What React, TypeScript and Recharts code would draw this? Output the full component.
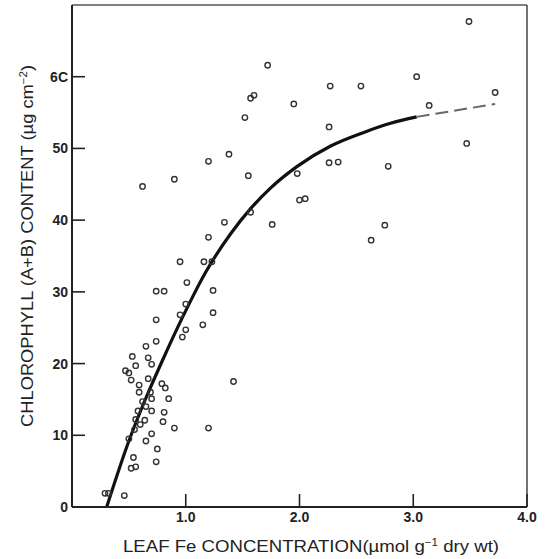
import { ComposedChart, Scatter, Line, XAxis, YAxis, ReferenceLine } from 'recharts';

// leaf Fe (µmol g-1 dry wt) and chlorophyll (µg cm-2) for each sampled leaf
const leafFe = [
  3.49, 1.72, 3.03, 2.27, 2.54, 3.72, 1.6, 1.57, 1.95, 3.14, 1.52, 2.26, 3.47, 1.38, 1.2, 2.26, 2.34,
  2.78, 1.98, 1.55, 0.9, 0.62, 2.0, 2.05, 1.57, 1.34, 1.76, 2.75, 1.2, 2.63, 0.95, 1.16, 1.23, 1.01,
  0.74, 0.81, 1.24, 1.0, 0.95, 1.24, 0.74, 1.15, 1.0, 0.97, 0.74, 0.65, 0.53, 0.67, 0.7, 0.56, 0.47,
  0.5, 0.52, 0.67, 1.42, 0.59, 0.79, 0.82, 0.59, 0.69, 0.7, 0.85, 0.62, 0.65, 0.58, 0.7, 0.81, 0.56,
  0.64, 0.8, 0.6, 0.9, 1.2, 0.55, 0.7, 0.5, 0.65, 0.75, 0.54, 0.74, 0.52, 0.56, 0.29, 0.32, 0.46,
];
const chlorophyll = [
  67.7, 61.6, 60.0, 58.7, 58.7, 57.8, 57.4, 57.0, 56.2, 56.0, 54.3, 53.0, 50.7, 49.2, 48.2, 48.0, 48.1,
  47.5, 46.5, 46.2, 45.7, 44.7, 42.8, 43.0, 41.1, 39.7, 39.4, 39.3, 37.6, 37.2, 34.2, 34.2, 34.2, 31.3,
  30.1, 30.1, 30.2, 28.3, 26.8, 27.1, 26.1, 25.4, 24.7, 23.7, 23.1, 22.4, 21.0, 20.8, 19.9, 19.7, 19.0,
  18.7, 17.7, 17.9, 17.5, 17.0, 17.2, 16.6, 16.0, 16.0, 15.1, 15.1, 14.7, 14.0, 13.4, 13.4, 13.2, 12.2,
  12.1, 11.9, 11.5, 11.0, 11.0, 10.8, 10.2, 9.5, 9.2, 8.1, 6.9, 6.3, 5.4, 5.6, 1.9, 1.9, 1.6,
];

// fitted curve (solid) and its extrapolation (dashed)
const fitFe = [0.305, 0.5, 0.65, 0.8, 0.97, 1.17, 1.39, 1.57, 1.74, 1.98, 2.27, 2.56, 2.8, 3.03];
const fitChl = [0, 9.2, 15.2, 20.6, 26.4, 32.6, 38.0, 41.6, 44.4, 47.5, 50.3, 52.2, 53.5, 54.4];
const extFe = [3.03, 3.72];
const extChl = [54.4, 56.2];

const xTicks = [1, 2, 3, 4];
const yTicks = [0, 10, 20, 30, 40, 50, 60];
const yTickLabels = ['0', '10', '20', '30', '40', '50', '6C'];

const points = leafFe.map((x, i) => ({ x, y: chlorophyll[i] }));
const fit = fitFe.map((x, i) => ({ x, y: fitChl[i] }));
const ext = extFe.map((x, i) => ({ x, y: extChl[i] }));

const ink = '#222';
const font = '"Liberation Sans", Arial, Helvetica, sans-serif';

const Ring = (props: any) => (
  <circle cx={props.cx} cy={props.cy} r={2.7} fill="none" stroke="#333" strokeWidth={1.4} />
);

const YTick = ({ x, y, payload }: any) => (
  <g>
    <line x1={x} y1={y} x2={x + 13} y2={y} stroke={ink} strokeWidth={1.6} />
    <text x={x - 4} y={y} dy={5} textAnchor="end" fontSize={14} fontWeight="bold" fill={ink} fontFamily={font}>
      {yTickLabels[yTicks.indexOf(payload.value)]}
    </text>
  </g>
);

const XTick = ({ x, y, payload }: any) => (
  <g>
    <line x1={x} y1={y} x2={x} y2={y - 13} stroke={ink} strokeWidth={1.6} />
    <text x={x} y={y + 15} textAnchor="middle" fontSize={14} fontWeight="bold" fill={ink} fontFamily={font}>
      {payload.value.toFixed(1)}
    </text>
  </g>
);

const XTitle = () => (
  <text x={123} y={552} fontSize={16} fill={ink} fontFamily={font} textLength={376} lengthAdjust="spacingAndGlyphs">
    <tspan>LEAF Fe CONCENTRATION(µmol g</tspan>
    <tspan dy={-6} fontSize={10}>−1</tspan>
    <tspan dy={6}> dry wt)</tspan>
  </text>
);

const YTitle = () => (
  <text
    x={0}
    y={0}
    transform="translate(33 427) rotate(-90)"
    fontSize={16}
    fill={ink}
    fontFamily={font}
    textLength={362}
    lengthAdjust="spacingAndGlyphs"
  >
    <tspan>CHLOROPHYLL (A+B) CONTENT (µg cm</tspan>
    <tspan dy={-6} fontSize={10}>−2</tspan>
    <tspan dy={6}>)</tspan>
  </text>
);

export default function App() {
  return (
    <div style={{ position: 'absolute', left: 0, top: 0, width: 552, height: 559, background: '#fff' }}>
      <ComposedChart width={552} height={559} margin={{ top: 5, right: 25, bottom: 0, left: 0 }}>
        <XAxis
          type="number"
          dataKey="x"
          domain={[0, 4]}
          ticks={xTicks}
          tickSize={0}
          tickMargin={0}
          height={52}
          stroke={ink}
          strokeWidth={2}
          tick={<XTick />}
          label={{ content: () => <XTitle /> }}
        />
        <YAxis
          type="number"
          dataKey="y"
          domain={[0, 70]}
          ticks={yTicks}
          tickSize={0}
          tickMargin={0}
          width={72}
          stroke={ink}
          strokeWidth={2}
          tick={<YTick />}
          label={{ content: () => <YTitle /> }}
        />
        <ReferenceLine y={70} stroke="#555" strokeWidth={1.5} />
        <ReferenceLine x={4} stroke="#444" strokeWidth={1.5} />
        <Scatter data={points} dataKey="y" shape={Ring} isAnimationActive={false} />
        <Line
          data={fit}
          dataKey="y"
          type="monotone"
          stroke="#111"
          strokeWidth={3.2}
          dot={false}
          activeDot={false}
          isAnimationActive={false}
        />
        <Line
          data={ext}
          dataKey="y"
          type="linear"
          stroke="#666"
          strokeWidth={2}
          strokeDasharray="13 6"
          dot={false}
          activeDot={false}
          isAnimationActive={false}
        />
      </ComposedChart>
    </div>
  );
}
